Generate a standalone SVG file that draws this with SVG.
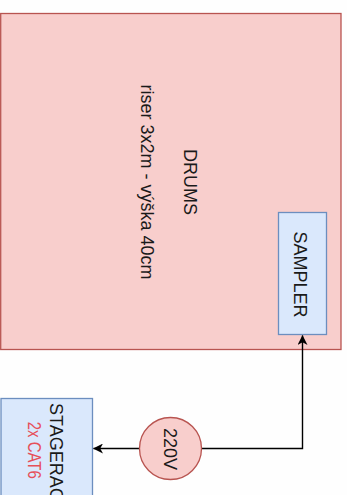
<svg xmlns="http://www.w3.org/2000/svg" width="347" height="495" viewBox="0 0 347 495">
<style>
.bg{fill:#fefefe}
.red{fill:#f8cecc;stroke:#b85450;stroke-width:1.3}
.blue{fill:#dae8fc;stroke:#6c8ebf;stroke-width:1.3}
.t{font-family:"Liberation Sans",Arial,sans-serif;font-size:18px;fill:#1a1a1a}
.conn{fill:none;stroke:#000;stroke-width:1.4}
</style>
<defs>
<marker id="arr" viewBox="0 0 10 10" refX="9.5" refY="5" markerWidth="7" markerHeight="7" markerUnits="userSpaceOnUse" orient="auto">
<path d="M0,0 L10,5 L0,10 L2.8,5 Z" fill="#000"/>
</marker>
<marker id="arrb" viewBox="0 0 10 10" refX="9.5" refY="5" markerWidth="10" markerHeight="10" markerUnits="userSpaceOnUse" orient="auto">
<path d="M0,0 L10,5 L0,10 L2.8,5 Z" fill="#000"/>
</marker>
</defs>
<rect class="bg" x="0" y="0" width="347" height="495"/>
<g id="drums">
<rect class="red" x="0.7" y="13.5" width="340.3" height="336"/>
<text class="t" transform="translate(183.5,182) rotate(90)" text-anchor="middle">DRUMS</text>
<text class="t" transform="translate(141,182) rotate(90)" text-anchor="middle">riser 3x2m - výška 40cm</text>
</g>
<g id="sampler">
<rect class="blue" x="278.5" y="212.5" width="48" height="122"/>
<text class="t" transform="translate(293.5,274.5) rotate(90)" text-anchor="middle">SAMPLER</text>
</g>
<g id="stagerack">
<rect class="blue" x="1" y="398.5" width="91.5" height="110"/>
<text class="t" transform="translate(49.5,403) rotate(90)">STAGERACK</text>
<text class="t" transform="translate(27.7,421.7) rotate(90)" style="fill:#e6505a" textLength="57" lengthAdjust="spacingAndGlyphs">2x CAT6</text>
</g>
<g id="connectors">
<path class="conn" d="M201.5,448.5 H302.5 V335.5" marker-end="url(#arrb)"/>
<path class="conn" d="M139.5,448.5 H93.5" marker-end="url(#arrb)"/>
</g>
<g id="v220">
<circle class="red" cx="170.5" cy="448.5" r="31"/>
<text class="t" transform="translate(163.5,449) rotate(90)" text-anchor="middle">220V</text>
</g>
</svg>
